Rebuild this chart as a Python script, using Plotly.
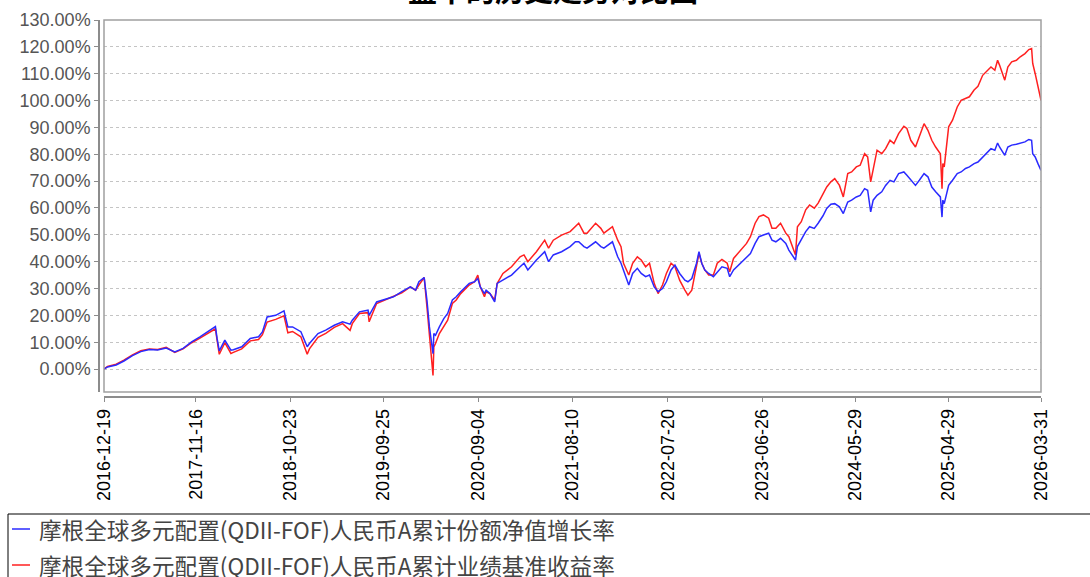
import plotly.graph_objects as go

# ---------------- data ----------------
dates = [
    "2016-12-19", "2017-01-01", "2017-02-01", "2017-03-01", "2017-04-01", "2017-05-01",
    "2017-06-01", "2017-07-01", "2017-08-01", "2017-09-01", "2017-10-01", "2017-11-01",
    "2017-12-01", "2018-01-01", "2018-01-26", "2018-02-01", "2018-02-09", "2018-03-01",
    "2018-03-23", "2018-04-01", "2018-05-01", "2018-06-01", "2018-07-01", "2018-07-15",
    "2018-08-01", "2018-09-01", "2018-10-01", "2018-10-15", "2018-11-01", "2018-12-01",
    "2018-12-24", "2019-01-01", "2019-02-01", "2019-03-01", "2019-04-01", "2019-05-01",
    "2019-05-28", "2019-06-05", "2019-07-01", "2019-08-01", "2019-08-05", "2019-09-01",
    "2019-10-01", "2019-11-01", "2019-12-01", "2020-01-01", "2020-01-20", "2020-02-01",
    "2020-02-20", "2020-03-01", "2020-03-10", "2020-03-16", "2020-03-23", "2020-03-26",
    "2020-04-01", "2020-04-15", "2020-05-01", "2020-05-15", "2020-06-01", "2020-06-15",
    "2020-07-01", "2020-08-01", "2020-08-20", "2020-09-01", "2020-09-10", "2020-09-25",
    "2020-10-01", "2020-10-15", "2020-11-01", "2020-11-10", "2020-12-01", "2021-01-01",
    "2021-02-01", "2021-02-15", "2021-03-01", "2021-04-01", "2021-05-01", "2021-05-15",
    "2021-06-01", "2021-07-01", "2021-08-01", "2021-08-20", "2021-09-01", "2021-09-20",
    "2021-10-01", "2021-11-01", "2021-11-20", "2021-12-01", "2022-01-01", "2022-01-20",
    "2022-02-01", "2022-02-10", "2022-03-01", "2022-03-15", "2022-04-01", "2022-04-15",
    "2022-05-01", "2022-05-15", "2022-06-01", "2022-06-15", "2022-07-01", "2022-07-15",
    "2022-08-01", "2022-08-15", "2022-09-01", "2022-09-20", "2022-10-01", "2022-10-15",
    "2022-11-01", "2022-11-10", "2022-11-20", "2022-12-01", "2022-12-15", "2023-01-01",
    "2023-01-15", "2023-02-01", "2023-02-20", "2023-03-01", "2023-03-15", "2023-04-01",
    "2023-05-01", "2023-05-15", "2023-06-01", "2023-06-15", "2023-07-01", "2023-07-20",
    "2023-08-01", "2023-08-15", "2023-09-01", "2023-09-20", "2023-10-01", "2023-10-25",
    "2023-11-01", "2023-11-15", "2023-12-01", "2023-12-15", "2024-01-01", "2024-01-15",
    "2024-02-01", "2024-02-15", "2024-03-01", "2024-03-15", "2024-04-01", "2024-04-15",
    "2024-05-01", "2024-05-15", "2024-06-01", "2024-06-15", "2024-07-01", "2024-07-12",
    "2024-07-23", "2024-08-01", "2024-08-15", "2024-09-01", "2024-09-15", "2024-10-01",
    "2024-10-15", "2024-11-01", "2024-11-20", "2024-12-01", "2024-12-15", "2025-01-01",
    "2025-01-15", "2025-02-01", "2025-02-15", "2025-03-01", "2025-03-15", "2025-04-01",
    "2025-04-07", "2025-04-10", "2025-04-15", "2025-05-01", "2025-05-15", "2025-06-01",
    "2025-06-15", "2025-07-01", "2025-07-15", "2025-08-01", "2025-08-15", "2025-09-01",
    "2025-09-15", "2025-10-01", "2025-10-15", "2025-10-25", "2025-11-01", "2025-11-20",
    "2025-12-01", "2025-12-15", "2026-01-01", "2026-01-15", "2026-02-01", "2026-02-15",
    "2026-02-25", "2026-03-01", "2026-03-10", "2026-03-20", "2026-03-31",
]

# 累计份额净值增长率 (%)
nav_growth = [
    0.0, 0.8, 1.5, 3.0, 5.0, 6.5,
    7.3, 7.1, 7.8, 6.4, 7.7, 10.1,
    12.0, 14.0, 15.8, 11.4, 6.8, 10.8,
    7.0, 7.2, 8.3, 11.4, 12.0, 13.8,
    19.4, 20.0, 21.7, 15.7, 15.7, 13.9,
    8.3, 9.5, 13.2, 14.5, 16.3, 17.6,
    16.7, 18.2, 21.3, 21.9, 20.0, 25.0,
    25.9, 26.9, 28.8, 30.6, 29.4, 32.5,
    34.1, 25.7, 15.7, 10.7, 5.7, 13.2,
    12.6, 15.7, 18.8, 20.7, 25.7, 26.9,
    28.8, 31.9, 32.5, 33.7, 30.6, 28.1,
    29.4, 28.1, 25.0, 31.9, 33.1, 35.0,
    38.1, 39.4, 36.9, 40.6, 43.7, 40.0,
    42.5, 43.7, 45.6, 47.4, 47.4, 45.6,
    45.0, 47.4, 45.6, 45.0, 47.4, 41.8,
    39.4, 36.9, 31.3, 35.6, 37.5, 35.6,
    34.4, 35.0, 30.6, 28.8, 30.0, 32.5,
    36.9, 38.7, 35.6, 33.1, 32.5, 33.7,
    39.4, 43.7, 39.4, 36.9, 35.6, 34.4,
    36.2, 38.1, 37.5, 34.4, 36.9, 38.7,
    41.8, 43.0, 46.8, 49.3, 49.9, 50.6,
    48.0, 47.4, 48.7, 46.8, 44.3, 40.6,
    45.6, 48.0, 51.2, 53.0, 52.4, 54.3,
    57.0, 59.8, 61.4, 61.6, 60.4, 57.9,
    62.2, 62.9, 64.1, 64.7, 67.2, 66.6,
    58.5, 62.9, 64.7, 66.0, 68.4, 70.3,
    69.7, 72.8, 73.4, 72.2, 70.3, 68.4,
    70.3, 72.8, 71.6, 67.8, 66.0, 64.1,
    56.6, 62.9, 61.6, 68.4, 70.3, 72.8,
    73.4, 74.7, 75.3, 76.5, 77.1, 79.0,
    80.2, 82.1, 81.5, 84.2, 82.7, 79.6,
    82.7, 83.4, 83.7, 84.2, 84.6, 85.5,
    85.2, 80.2, 79.0, 76.5, 74.0,
]

# 业绩基准收益率 (%)
bench_return = [
    0.0, 1.0, 1.8, 3.3, 5.3, 6.8,
    7.5, 7.3, 8.1, 6.2, 7.5, 9.8,
    11.5, 13.5, 15.0, 10.8, 5.5, 9.8,
    5.8, 6.2, 7.5, 10.5, 11.0, 12.8,
    17.5, 18.5, 19.8, 13.5, 14.0, 12.0,
    5.5, 7.5, 11.8, 13.3, 15.5, 16.9,
    14.4, 16.9, 20.7, 21.0, 17.6, 24.4,
    25.7, 26.9, 28.4, 30.6, 29.4, 31.3,
    34.1, 23.2, 13.2, 5.7, -2.4, 8.2,
    9.5, 13.2, 15.7, 18.2, 24.4, 25.7,
    28.1, 31.3, 32.5, 35.0, 30.6, 26.9,
    28.8, 28.1, 25.7, 31.9, 35.6, 38.1,
    41.8, 42.5, 40.0, 43.7, 48.0, 45.0,
    48.0, 49.9, 51.2, 53.0, 54.3, 50.6,
    50.6, 54.3, 52.4, 50.6, 53.0, 48.0,
    45.6, 39.4, 35.0, 39.4, 41.8, 40.6,
    38.1, 39.4, 31.9, 28.1, 31.3, 35.6,
    39.4, 38.1, 33.1, 29.4, 27.5, 29.4,
    37.5, 43.1, 39.4, 36.9, 35.0, 35.0,
    39.4, 40.8, 39.4, 36.2, 41.2, 43.1,
    46.8, 49.3, 54.3, 56.8, 57.4, 56.2,
    52.4, 52.4, 54.3, 50.6, 49.3, 42.5,
    53.0, 54.9, 59.3, 61.1, 59.9, 61.8,
    65.0, 67.8, 69.7, 70.9, 68.4, 64.1,
    72.8, 73.4, 75.3, 75.9, 80.2, 79.0,
    69.7, 74.0, 81.5, 80.2, 82.1, 85.2,
    84.0, 87.7, 90.4, 89.6, 85.2, 82.7,
    86.5, 91.4, 88.9, 85.2, 82.7, 80.2,
    67.2, 76.5, 75.3, 90.2, 92.7, 97.6,
    100.1, 100.7, 101.4, 103.9, 105.3, 109.4,
    110.7, 112.5, 111.3, 115.0, 113.2, 107.6,
    112.5, 114.4, 115.0, 116.3, 117.5, 119.0,
    119.4, 113.8, 110.0, 105.7, 100.1,
]

series_names = [
    "摩根全球多元配置(QDII-FOF)人民币A累计份额净值增长率",
    "摩根全球多元配置(QDII-FOF)人民币A累计业绩基准收益率",
]
series_colors = ["#2a2aff", "#ff2020"]
title_visible_line = "益率的历史走势对比图"

x_tick_dates = [
    "2016-12-19", "2017-11-16", "2018-10-23", "2019-09-25", "2020-09-04",
    "2021-08-10", "2022-07-20", "2023-06-26", "2024-05-29", "2025-04-29", "2026-03-31",
]
y_tick_values = [0, 10, 20, 30, 40, 50, 60, 70, 80, 90, 100, 110, 120, 130]
y_tick_labels = ["0.00%", "10.00%", "20.00%", "30.00%", "40.00%", "50.00%", "60.00%",
                 "70.00%", "80.00%", "90.00%", "100.00%", "110.00%", "120.00%", "130.00%"]

# ---------------- figure ----------------
W, H = 1090, 577
ML, MR, MT, MB = 99, 49, 20, 180
plot_w = W - ML - MR
plot_h = H - MT - MB
xd0 = 5 / plot_w
yd0 = 5 / plot_h


def px_x(px):
    return (px - ML) / plot_w


def px_y(py):
    return (MT + plot_h - py) / plot_h


fig = go.Figure()
fig.add_trace(go.Scatter(
    x=dates, y=bench_return, mode="lines", name=series_names[1],
    line=dict(color=series_colors[1], width=1.5), showlegend=False,
))
fig.add_trace(go.Scatter(
    x=dates, y=nav_growth, mode="lines", name=series_names[0],
    line=dict(color=series_colors[0], width=1.5), showlegend=False,
))

axis_gray = "#8c8c8c"

shapes = [
    # plot frame
    dict(type="rect", xref="paper", yref="paper", x0=xd0, x1=1, y0=yd0, y1=1,
         line=dict(color="#a0a0a0", width=1.5), fillcolor="rgba(0,0,0,0)", layer="above"),
    # legend box (runs past the right edge like the reference)
    dict(type="rect", xref="paper", yref="paper",
         x0=px_x(8), x1=px_x(W + 20), y0=px_y(514), y1=px_y(H + 20),
         line=dict(color="#000000", width=1), fillcolor="rgba(0,0,0,0)"),
]
annotations = [
    # title: only the lower edge of its last line shows at the top of the picture
    dict(text="<b>" + title_visible_line + "</b>", xref="paper", yref="paper",
         x=px_x(553), y=px_y(12), xanchor="center", yanchor="bottom", showarrow=False,
         font=dict(family="Noto Sans CJK SC", size=29, color="#000000")),
]
legend_rows_y = [529, 565]
for name, color, ry in zip(series_names, series_colors, legend_rows_y):
    shapes.append(dict(type="line", xref="paper", yref="paper",
                       x0=px_x(12), x1=px_x(30), y0=px_y(ry), y1=px_y(ry),
                       line=dict(color=color, width=1.5)))
    annotations.append(dict(text=name, xref="paper", yref="paper",
                            x=px_x(37), y=px_y(ry), xanchor="left", yanchor="middle",
                            showarrow=False,
                            font=dict(family="Noto Sans CJK SC", size=22.6, color="#444444")))

fig.update_layout(
    width=W, height=H,
    margin=dict(l=ML, r=MR, t=MT, b=MB, pad=0, autoexpand=False),
    paper_bgcolor="white", plot_bgcolor="white",
    showlegend=False,
    xaxis=dict(
        type="date", domain=[xd0, 1], anchor="free", position=0, automargin=False,
        range=[x_tick_dates[0], x_tick_dates[-1]],
        tickmode="array", tickvals=x_tick_dates, ticktext=x_tick_dates,
        tickangle=-90, ticks="outside", ticklen=4, tickcolor=axis_gray,
        showline=True, linecolor=axis_gray, linewidth=1.5,
        showgrid=False, zeroline=False,
        tickfont=dict(family="Liberation Sans", size=18, color="#000000"),
    ),
    yaxis=dict(
        domain=[yd0, 1], anchor="free", position=0, automargin=False,
        range=[-8.55, 130],
        tickmode="array", tickvals=y_tick_values, ticktext=y_tick_labels,
        ticks="outside", ticklen=4, tickcolor=axis_gray,
        showline=True, linecolor=axis_gray, linewidth=1.5,
        showgrid=True, gridcolor="#c4c4c4", gridwidth=1, griddash="3px,3px",
        zeroline=False,
        tickfont=dict(family="Liberation Sans", size=18, color="#555555"),
    ),
    shapes=shapes,
    annotations=annotations,
)

fig.write_html(
    "out.html",
    config={"displayModeBar": False},
    post_script="document.body.style.margin='0';document.body.style.overflow='hidden';",
)
